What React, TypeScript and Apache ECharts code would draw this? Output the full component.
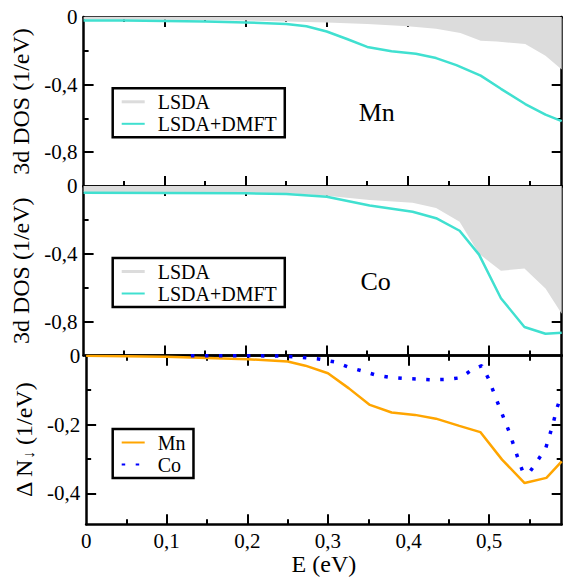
import React, { useEffect, useRef } from 'react';
import * as echarts from 'echarts';

// ---------- tick labels ----------
const xMajorTicks = [0.1, 0.2, 0.3, 0.4, 0.5];
const xMinorTicks = [0.05, 0.15, 0.25, 0.35, 0.45, 0.55];
const xTickLabels = [0, 0.1, 0.2, 0.3, 0.4, 0.5];
const dosMajorTicks = [-0.4, -0.8];
const dosMinorTicks = [-0.2, -0.6];
const dosTickLabels = [0, -0.4, -0.8];
const dnMajorTicks = [-0.2, -0.4];
const dnMinorTicks = [-0.1, -0.3];
const dnTickLabels = [0, -0.2, -0.4];

// ---------- Mn 3d DOS ----------
const mnLsdaE = [0, 0.1, 0.2, 0.25, 0.3, 0.35, 0.4, 0.435, 0.465, 0.49, 0.51, 0.545, 0.57, 0.59];
const mnLsda = [-0.015, -0.017, -0.021, -0.026, -0.033, -0.042, -0.055, -0.07, -0.095, -0.14, -0.145, -0.16, -0.23, -0.31];
const mnDmftE = [0, 0.05, 0.1, 0.15, 0.2, 0.25, 0.275, 0.3, 0.325, 0.35, 0.38, 0.41, 0.435, 0.46, 0.49, 0.515, 0.545, 0.57, 0.59];
const mnDmft = [-0.02, -0.021, -0.024, -0.027, -0.032, -0.041, -0.055, -0.086, -0.13, -0.177, -0.203, -0.218, -0.243, -0.285, -0.347, -0.425, -0.515, -0.578, -0.616];

// ---------- Co 3d DOS ----------
const coLsdaE = [0, 0.1, 0.2, 0.25, 0.3, 0.353, 0.406, 0.435, 0.464, 0.488, 0.515, 0.544, 0.57, 0.59];
const coLsda = [-0.036, -0.037, -0.039, -0.042, -0.057, -0.083, -0.099, -0.13, -0.211, -0.4, -0.5, -0.487, -0.605, -0.753];
const coDmftE = [0, 0.1, 0.2, 0.25, 0.3, 0.353, 0.406, 0.435, 0.464, 0.488, 0.515, 0.544, 0.57, 0.59];
const coDmft = [-0.04, -0.041, -0.043, -0.047, -0.063, -0.115, -0.152, -0.19, -0.264, -0.405, -0.662, -0.832, -0.872, -0.866];

// ---------- Delta N down ----------
const dnMnE = [0, 0.1, 0.2, 0.25, 0.272, 0.3, 0.326, 0.352, 0.379, 0.408, 0.434, 0.463, 0.489, 0.516, 0.544, 0.571, 0.59];
const dnMn = [0, -0.003, -0.01, -0.017, -0.029, -0.051, -0.095, -0.143, -0.165, -0.172, -0.183, -0.204, -0.222, -0.302, -0.37, -0.355, -0.307];
const dnCoE = [0.13, 0.2, 0.237, 0.256, 0.273, 0.29, 0.308, 0.325, 0.342, 0.359, 0.377, 0.394, 0.412, 0.43, 0.448, 0.465, 0.479, 0.491, 0.499, 0.512, 0.525, 0.536, 0.542, 0.55, 0.56, 0.57, 0.575, 0.58, 0.584, 0.59];
const dnCo = [0, 0, -0.001, -0.003, -0.006, -0.01, -0.018, -0.033, -0.044, -0.056, -0.063, -0.066, -0.068, -0.07, -0.069, -0.064, -0.04, -0.029, -0.066, -0.145, -0.222, -0.3, -0.339, -0.339, -0.305, -0.27, -0.232, -0.191, -0.153, -0.112];

const FONT = 'Liberation Serif';
const X_MAX = 0.59;
const comma = (v: number) => String(v).replace('.', ',');
const zip = (xs: number[], ys: number[]) => xs.map((x, i) => [x, ys[i]]);

const axisLineStyle = { color: '#000', width: 2.5 };
const tickLineStyle = { color: '#000', width: 2 };

function xAxes(gridIndex: number, withLabels: boolean) {
  const base = { gridIndex, type: 'value', min: 0, max: X_MAX, splitLine: { show: false } };
  const major = (position: string, labels: boolean, name?: boolean) => ({
    ...base,
    position,
    axisLine: { show: true, onZero: false, lineStyle: axisLineStyle },
    axisTick: { show: true, inside: true, length: 10, customValues: xMajorTicks, lineStyle: tickLineStyle },
    axisLabel: {
      show: labels, customValues: xTickLabels, formatter: comma, fontSize: 21,
      fontFamily: FONT, color: '#000', margin: 6,
    },
    ...(name
      ? {
          name: 'E (eV)', nameLocation: 'middle', nameGap: 22,
          nameTextStyle: { fontSize: 24, fontFamily: FONT, color: '#000' },
        }
      : {}),
  });
  const minor = (position: string) => ({
    ...base,
    position,
    axisLine: { show: false, onZero: false },
    axisTick: { show: true, inside: true, length: 5, customValues: xMinorTicks, lineStyle: tickLineStyle },
    axisLabel: { show: false },
  });
  return [major('bottom', withLabels, withLabels), minor('bottom'), major('top', false), minor('top')];
}

function yAxes(gridIndex: number, min: number, majorT: number[], minorT: number[], labels: number[], name: string, rich?: any) {
  const base = { gridIndex, type: 'value', min, max: 0, splitLine: { show: false } };
  const major = (position: string, withLabels: boolean) => ({
    ...base,
    position,
    axisLine: { show: true, onZero: false, lineStyle: axisLineStyle },
    axisTick: { show: true, inside: true, length: 10, customValues: majorT, lineStyle: tickLineStyle },
    axisLabel: {
      show: withLabels, customValues: labels, formatter: comma, fontSize: 21,
      fontFamily: FONT, color: '#000', margin: 6,
    },
    ...(withLabels
      ? {
          name, nameLocation: 'middle', nameGap: 42,
          nameTextStyle: { fontSize: 24, fontFamily: FONT, color: '#000', ...(rich ? { rich } : {}) },
        }
      : {}),
  });
  const minor = (position: string) => ({
    ...base,
    position,
    axisLine: { show: false, onZero: false },
    axisTick: { show: true, inside: true, length: 5, customValues: minorT, lineStyle: tickLineStyle },
    axisLabel: { show: false },
  });
  return [major('left', true), minor('left'), major('right', false), minor('right')];
}

const legendBase = {
  orient: 'vertical',
  itemGap: 0,
  itemWidth: 23,
  itemHeight: 14,
  padding: [2.5, 8, 2.5, 8],
  borderColor: '#000',
  borderWidth: 2.5,
  selectedMode: false,
  itemStyle: { opacity: 0 },
  textStyle: { fontSize: 20, fontFamily: FONT, color: '#000', lineHeight: 22, padding: [0, 0, 0, 8] },
};

const lsdaLegendItem = {
  name: 'LSDA',
  icon: 'path://M0,0H23V3H0Z',
  itemStyle: { color: '#dcdcdc', opacity: 1 },
};

export default function App() {
  const ref = useRef<HTMLDivElement>(null);
  useEffect(() => {
    if (!ref.current) return;
    const chart = echarts.init(ref.current, null, { renderer: 'svg' });
    const grids = [
      { left: 83.6, right: 1.3, top: 17, height: 169 },
      { left: 83.6, right: 1.3, top: 186, height: 169.5 },
      { left: 83.6, right: 1.3, top: 355.7, height: 168.6 },
    ];
    const option: any = {
      animation: false,
      textStyle: { fontFamily: FONT },
      grid: grids,
      xAxis: [...xAxes(0, false), ...xAxes(1, false), ...xAxes(2, true)],
      yAxis: [
        ...yAxes(0, -1, dosMajorTicks, dosMinorTicks, dosTickLabels, '3d DOS (1/eV)'),
        ...yAxes(1, -1, dosMajorTicks, dosMinorTicks, dosTickLabels, '3d DOS (1/eV)'),
        ...yAxes(2, -0.49, dnMajorTicks, dnMinorTicks, dnTickLabels, '{d|Δ N}{s|↓}{d| (1/eV)}', {
          d: { fontSize: 24, fontFamily: FONT, color: '#000', verticalAlign: 'top', lineHeight: 24 },
          s: { fontSize: 16, fontFamily: FONT, color: '#000', verticalAlign: 'bottom', lineHeight: 16, padding: [12, 0, 0, 0] },
        }),
      ],
      legend: [
        {
          ...legendBase, left: 112.7, top: 88.3,
          data: [lsdaLegendItem, { name: 'LSDA+DMFT' }],
        },
        {
          ...legendBase, left: 112.7, top: 258,
          data: [lsdaLegendItem, { name: 'LSDA+DMFT' }],
        },
        {
          ...legendBase, left: 112.7, top: 429,
          data: [{ name: 'Mn' }, { name: 'Co' }],
        },
      ],
      graphic: [
        {
          type: 'text', x: 376.7, y: 112,
          style: { text: 'Mn', fontSize: 26, fontFamily: FONT, fill: '#000', textAlign: 'center', textVerticalAlign: 'middle', align: 'center', verticalAlign: 'middle' },
        },
        {
          type: 'text', x: 375.7, y: 281,
          style: { text: 'Co', fontSize: 26, fontFamily: FONT, fill: '#000', textAlign: 'center', textVerticalAlign: 'middle', align: 'center', verticalAlign: 'middle' },
        },
      ],
      series: [
        {
          name: 'LSDA', type: 'line', xAxisIndex: 0, yAxisIndex: 0, data: zip(mnLsdaE, mnLsda),
          symbol: 'none', lineStyle: { width: 0, color: '#dcdcdc' },
          itemStyle: { color: '#dcdcdc' },
          areaStyle: { color: '#dcdcdc', opacity: 1, origin: 'end' }, z: 1,
        },
        {
          name: 'LSDA+DMFT', type: 'line', xAxisIndex: 0, yAxisIndex: 0, data: zip(mnDmftE, mnDmft),
          symbol: 'none', lineStyle: { width: 2.5, color: '#40e0d0' }, itemStyle: { color: '#40e0d0' }, z: 2,
        },
        {
          name: 'LSDA', type: 'line', xAxisIndex: 4, yAxisIndex: 4, data: zip(coLsdaE, coLsda),
          symbol: 'none', lineStyle: { width: 0, color: '#dcdcdc' },
          itemStyle: { color: '#dcdcdc' },
          areaStyle: { color: '#dcdcdc', opacity: 1, origin: 'end' }, z: 1,
        },
        {
          name: 'LSDA+DMFT', type: 'line', xAxisIndex: 4, yAxisIndex: 4, data: zip(coDmftE, coDmft),
          symbol: 'none', lineStyle: { width: 2.5, color: '#40e0d0' }, itemStyle: { color: '#40e0d0' }, z: 2,
        },
        {
          name: 'Mn', type: 'line', xAxisIndex: 8, yAxisIndex: 8, data: zip(dnMnE, dnMn),
          symbol: 'none', lineStyle: { width: 2.5, color: '#ffa500' }, itemStyle: { color: '#ffa500' }, z: 2,
        },
        {
          name: 'Co', type: 'line', xAxisIndex: 8, yAxisIndex: 8, data: zip(dnCoE, dnCo),
          symbol: 'none', lineStyle: { width: 3.5, color: '#0000ff', type: [3.5, 10.5], cap: 'butt' },
          itemStyle: { color: '#0000ff' }, z: 3,
        },
      ],
    };
    chart.setOption(option);
    return () => chart.dispose();
  }, []);
  return (
    <div
      ref={ref}
      style={{ position: 'fixed', left: 0, top: 0, width: 563, height: 578, background: '#fff' }}
    />
  );
}
